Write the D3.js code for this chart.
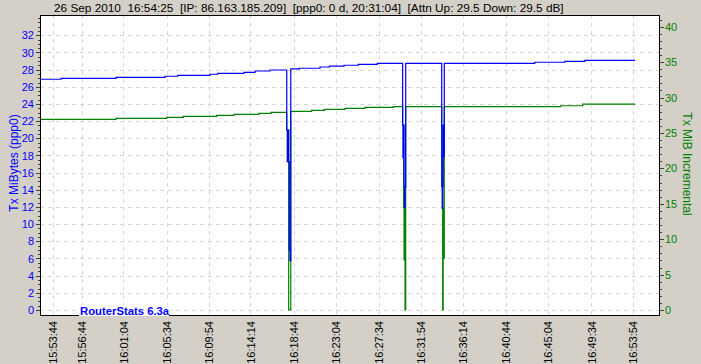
<!DOCTYPE html>
<html>
<head>
<meta charset="utf-8">
<title>RouterStats</title>
<script src="https://d3js.org/d3.v7.min.js"></script>
<style>
  body { margin: 0; background: #d4d0c8; }
  svg { display: block; font-family: "Liberation Sans", Arial, sans-serif; }
  .grid line { stroke: #d8d8d8; stroke-dasharray: 4,4; shape-rendering: crispEdges; }
  .axis text { font-size: 11px; }
  .axis line { stroke: #404040; shape-rendering: crispEdges; }
  .axis path { display: none; }
</style>
</head>
<body>
<div id="chart"></div>
<script>
// header line
let header = "26 Sep 2010  16:54:25  [IP: 86.163.185.209]  [ppp0: 0 d, 20:31:04]  [Attn Up: 29.5 Down: 29.5 dB]";

// x tick labels (times on the bottom axis)
let xTickLabels = ["15:53:44","15:56:44","16:01:04","16:05:34","16:09:54","16:14:14","16:18:44",
  "16:23:04","16:27:34","16:31:54","16:36:14","16:40:44","16:45:04","16:49:34","16:53:54"];

// Tx MiBytes (ppp0) - left axis, blue
let txTimes = ["15:52:25","15:54:36","16:00:18","16:05:23","16:06:42","16:10:02","16:10:50","16:13:34",
  "16:14:42","16:16:16",
  "16:18:00","16:18:04","16:18:08","16:18:12","16:18:16","16:18:20","16:18:25",
  "16:19:18","16:21:27","16:22:25","16:23:56","16:25:25","16:27:23",
  "16:30:01","16:30:04","16:30:07","16:30:10","16:30:13","16:30:16","16:30:20",
  "16:34:04","16:34:07","16:34:10","16:34:13","16:34:16","16:34:20",
  "16:43:43","16:46:50","16:48:54","16:54:07"];
let txValues = [26.88,26.99,27.11,27.23,27.34,27.46,27.57,27.69,
  27.84,27.96,
  20.97,17.28,20.97,17.28,6.99,5.74,28.08,
  28.16,28.31,28.42,28.51,28.62,28.74,
  21.55,17.74,21.55,14.36,11.92,14.36,28.74,
  14.36,11.85,14.36,21.55,17.86,28.74,
  28.86,28.97,29.09,29.09];

// Tx MiB Incremental - right axis, green
let incTimes = ["15:52:25","16:00:18","16:05:33","16:07:16","16:10:44","16:12:32","16:15:07","16:16:22",
  "16:18:00","16:18:04","16:18:08","16:18:12","16:18:16","16:18:25",
  "16:20:35","16:21:54","16:24:02","16:26:07","16:29:03",
  "16:30:01","16:30:04","16:30:07","16:30:10","16:30:13","16:30:16","16:30:20",
  "16:34:04","16:34:07","16:34:10","16:34:13","16:34:16","16:34:20",
  "16:46:24","16:48:41","16:54:07"];
let incValues = [26.92,27.07,27.21,27.35,27.49,27.63,27.77,27.91,
  25.41,20.94,25.41,0,0,28.05,
  28.19,28.34,28.48,28.62,28.72,
  26.12,21.50,14.44,7.06,14.44,0,28.72,
  26.12,21.50,0,14.36,7.30,28.72,
  28.84,29.08,29.08];

let width = 701, height = 364;
let plot = {left: 40, right: 660, top: 15, bottom: 316};

let parseTime = d3.timeParse("%Y-%m-%d %H:%M:%S");
function t(s) { return parseTime("2010-09-26 " + s); }

let x = d3.scaleTime()
    .domain([t("15:53:44"), t("16:53:54")])
    .range([52.7, 633]);

let yLeft = d3.scaleLinear().domain([0, 32]).range([310, 35.3]);
let yRight = d3.scaleLinear().domain([0, 40]).range([310, 26.7]);

let svg = d3.select("#chart").append("svg")
    .attr("width", width)
    .attr("height", height);

svg.append("text")
    .attr("x", 54).attr("y", 12)
    .style("font-size", "11.8px")
    .attr("xml:space", "preserve")
    .text(header);

svg.append("defs").append("clipPath").attr("id", "clip")
  .append("rect")
    .attr("x", plot.left).attr("y", plot.top)
    .attr("width", plot.right - plot.left).attr("height", plot.bottom - plot.top);

svg.append("rect")
    .attr("x", plot.left).attr("y", plot.top)
    .attr("width", plot.right - plot.left).attr("height", plot.bottom - plot.top)
    .attr("fill", "#fff");

// grid
let grid = svg.append("g").attr("class", "grid");
grid.selectAll(".h")
    .data(d3.range(0, 33, 2))
  .enter().append("line")
    .attr("x1", plot.left).attr("x2", plot.right)
    .attr("y1", d => Math.round(yLeft(d)) + 0.5).attr("y2", d => Math.round(yLeft(d)) + 0.5);
grid.selectAll(".v")
    .data(xTickLabels)
  .enter().append("line")
    .attr("x1", d => Math.round(x(t(d))) + 0.5).attr("x2", d => Math.round(x(t(d))) + 0.5)
    .attr("y1", plot.top).attr("y2", plot.bottom);

// lines
let lines = svg.append("g").attr("clip-path", "url(#clip)");

let txLine = d3.line()
    .x((d, i) => x(t(txTimes[i])))
    .y(d => yLeft(d))
    .curve(d3.curveStepAfter);
let incLine = d3.line()
    .x((d, i) => x(t(incTimes[i])))
    .y(d => yRight(d))
    .curve(d3.curveStepAfter);

lines.append("path")
    .attr("d", incLine(incValues))
    .attr("fill", "none").attr("stroke", "#008000").attr("stroke-width", 1.2);
lines.append("path")
    .attr("d", txLine(txValues))
    .attr("fill", "none").attr("stroke", "#0000ff").attr("stroke-width", 1.2);

// frame
svg.append("rect")
    .attr("x", plot.left + 0.5).attr("y", plot.top + 0.5)
    .attr("width", plot.right - plot.left - 1).attr("height", plot.bottom - plot.top - 1)
    .attr("fill", "none").attr("stroke", "#000").attr("stroke-width", 1);

// left axis
let gl = svg.append("g").attr("class", "axis")
    .attr("transform", "translate(" + plot.left + ",0)")
    .call(d3.axisLeft(yLeft).tickValues(d3.range(0, 33, 2)).tickSize(4).tickPadding(2));
gl.selectAll("text").attr("fill", "#0000ff");
svg.append("g").attr("class", "axis")
    .attr("transform", "translate(" + plot.left + ",0)")
    .call(d3.axisLeft(yLeft).tickValues(d3.range(0, 34.4, 0.5)).tickSize(2).tickFormat(""));

// right axis
let gr = svg.append("g").attr("class", "axis")
    .attr("transform", "translate(" + plot.right + ",0)")
    .call(d3.axisRight(yRight).tickValues(d3.range(0, 41, 5)).tickSize(4).tickPadding(1));
gr.selectAll("text").attr("fill", "#008000");
svg.append("g").attr("class", "axis")
    .attr("transform", "translate(" + plot.right + ",0)")
    .call(d3.axisRight(yRight).tickValues(d3.range(0, 42, 1)).tickSize(2).tickFormat(""));

// bottom axis labels
let gb = svg.append("g").attr("class", "axis")
    .attr("transform", "translate(0," + plot.bottom + ")")
    .call(d3.axisBottom(x).tickValues(xTickLabels.map(t)).tickSize(0).tickFormat(d3.timeFormat("%H:%M:%S")));
gb.selectAll("text")
    .attr("fill", "#000")
    .attr("transform", "rotate(-90)")
    .attr("x", -5).attr("y", 0).attr("dy", "0.35em")
    .style("text-anchor", "end");

// axis titles
svg.append("text")
    .attr("transform", "translate(18,163) rotate(-90)")
    .attr("text-anchor", "middle")
    .attr("fill", "#0000ff")
    .style("font-size", "12px")
    .text("Tx MiBytes (ppp0)");
svg.append("text")
    .attr("transform", "translate(683,164) rotate(90)")
    .attr("text-anchor", "middle")
    .attr("fill", "#008000")
    .style("font-size", "12px")
    .text("Tx MiB Incremental");

// watermark
svg.append("rect")
    .attr("x", 79).attr("y", 305).attr("width", 90).attr("height", 11)
    .attr("fill", "#fff");
svg.append("text")
    .attr("x", 80).attr("y", 314.5)
    .attr("fill", "#0000ff")
    .style("font-size", "11.3px").style("font-weight", "bold")
    .text("RouterStats 6.3a");
</script>
</body>
</html>
